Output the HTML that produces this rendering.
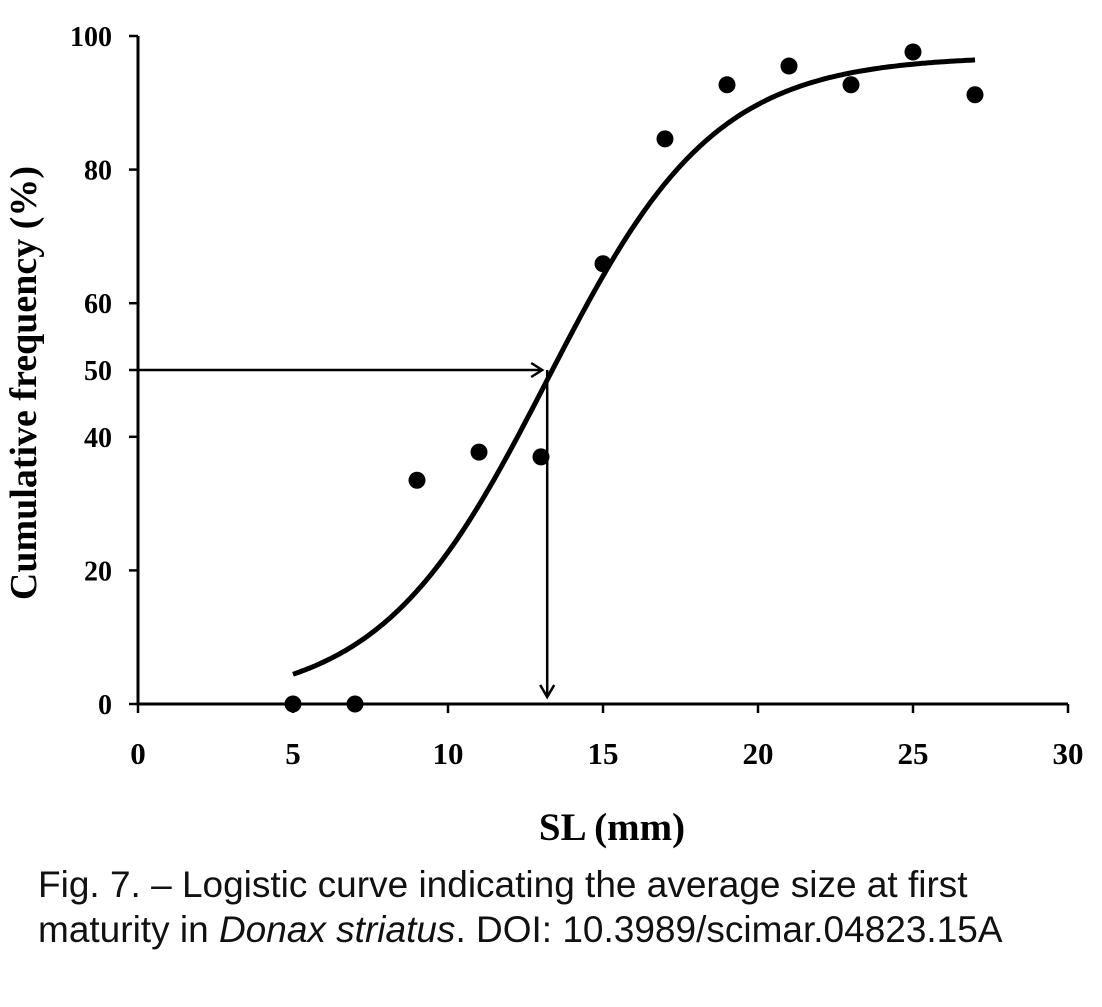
<!DOCTYPE html>
<html><head><meta charset="utf-8"><style>
body{margin:0;background:#fff;width:1102px;height:1007px;overflow:hidden}
.cap{position:absolute;left:38px;top:862px;font-family:"Liberation Sans",sans-serif;font-size:37px;line-height:45px;color:#111;white-space:nowrap}
</style></head><body>
<svg id="chart" width="1102" height="860" style="position:absolute;left:0;top:0" font-family="Liberation Serif, serif" font-weight="bold"></svg>
<div class="cap">Fig. 7. – Logistic curve indicating the average size at first<br>maturity in <i>Donax striatus</i>. DOI: 10.3989/scimar.04823.15A</div>
<script>
const xVals=[5,7,9,11,13,15,17,19,21,23,25,27];
const yVals=[0,0,33.5,37.7,37,65.9,84.6,92.7,95.5,92.7,97.6,91.2];
const xTicks=[0,5,10,15,20,25,30];
const yTicks=[0,20,40,50,60,80,100];
const curveA=97, curveR=0.37, curveX50=13.2;
const L50=13.2, P50=50;
const X=v=>138+v*31, Y=v=>704-v*6.68;
const svg=document.getElementById('chart');
const NS='http://www.w3.org/2000/svg';
function mk(t,a){const e=document.createElementNS(NS,t);for(const k in a)e.setAttribute(k,a[k]);svg.appendChild(e);return e;}
let e;
e=mk('line',{x1:X(0),y1:Y(0),x2:X(30),y2:Y(0),stroke:'#000','stroke-width':3});


e=mk('line',{x1:X(0),y1:Y(0),x2:X(0),y2:Y(100),stroke:'#000','stroke-width':3});


xTicks.forEach(v=>{
 e=mk('line',{x1:X(v),y1:Y(0),x2:X(v),y2:Y(0)+9,stroke:'#000','stroke-width':2.5});
 
 
 e=mk('text',{x:X(v),y:764,'text-anchor':'middle','font-size':31});
 e.textContent=v;
 
 
});
yTicks.forEach(v=>{
 e=mk('line',{x1:X(0)-9,y1:Y(v),x2:X(0),y2:Y(v),stroke:'#000','stroke-width':2.5});
 
 
 e=mk('text',{x:112,y:Y(v)+10,'text-anchor':'end','font-size':28});
 e.textContent=v;
 
 
});
e=mk('text',{x:X(15)+9,y:840,'text-anchor':'middle','font-size':39});
e.textContent='SL (mm)';


e=mk('text',{x:0,y:0,'text-anchor':'middle','font-size':38,transform:'translate(36,383) rotate(-90)'});
e.textContent='Cumulative frequency (%)';


let d='';
for(let x=5;x<=27.001;x+=0.1){const y=curveA/(1+Math.exp(-curveR*(x-curveX50)));d+=(d?'L':'M')+X(x).toFixed(1)+','+Y(y).toFixed(1);}
e=mk('path',{d:d,fill:'none',stroke:'#000','stroke-width':5});


e=mk('path',{d:`M${X(0)},${Y(P50)}L${X(L50)-6},${Y(P50)}M${X(L50)-16},${Y(P50)-7}L${X(L50)-5},${Y(P50)}L${X(L50)-16},${Y(P50)+7}`,fill:'none',stroke:'#000','stroke-width':2.5});


e=mk('path',{d:`M${X(L50)},${Y(P50)}L${X(L50)},${Y(0)-8}M${X(L50)-7},${Y(0)-19}L${X(L50)},${Y(0)-7}L${X(L50)+7},${Y(0)-19}`,fill:'none',stroke:'#000','stroke-width':2.5});


xVals.forEach((x,i)=>{
 e=mk('circle',{cx:X(x),cy:Y(yVals[i]),r:8.5,fill:'#000'});
 
 
});
</script>
</body></html>
